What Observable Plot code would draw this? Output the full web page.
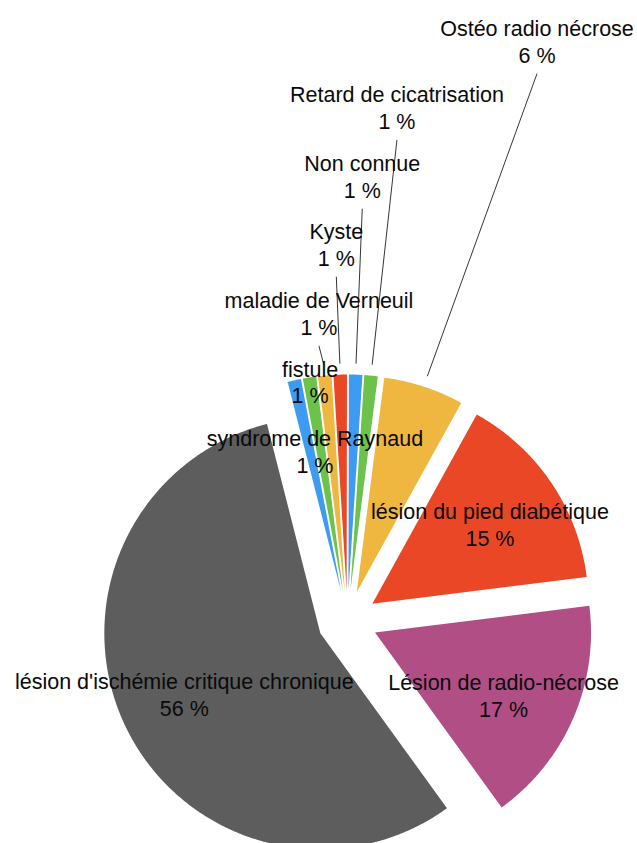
<!DOCTYPE html>
<html>
<head>
<meta charset="utf-8">
<script src="https://cdn.jsdelivr.net/npm/d3@7"></script>
<script src="https://cdn.jsdelivr.net/npm/@observablehq/plot@0.6"></script>
<style>
  html, body { margin: 0; padding: 0; background: #fff; }
  #chart svg { display: block; }
</style>
</head>
<body>
<div id="chart"></div>
<script>
// ---- data ----
const categories = [
  "syndrome de Raynaud",
  "fistule",
  "maladie de Verneuil",
  "Kyste",
  "Non connue",
  "Retard de cicatrisation",
  "Ostéo radio nécrose",
  "lésion du pied diabétique",
  "Lésion de radio-nécrose",
  "lésion d'ischémie critique chronique"
];
const percents = [1, 1, 1, 1, 1, 1, 6, 15, 17, 56];
const sliceColors = ["#3d9bf2", "#6cc24a", "#efb73f", "#ea4727", "#3d9bf2", "#6cc24a", "#efb73f", "#ea4727", "#b24e86", "#5d5d5d"];

// ---- layout ----
const W = 637, H = 843;
const cx = 347, cy = 620, R = 216, explode = 30;
const startDeg = -14.3;
const labelR = [143, 212, 279, 347, 415, 486, 580, 142, 143, 149];
const labelDA = [2, 0, 0, 0, 0, 0, 0, 0, 2.5, 1];
const hasLeader = [false, false, true, true, true, true, true, false, false, false];
const leaderR = 227;

const rad = Math.PI / 180;
const arcs = d3.pie().sort(null).value(d => d)
  .startAngle(startDeg * rad).endAngle((startDeg + 360) * rad)(percents);

const pt = (x0, y0, r, a) => [x0 + r * Math.sin(a), y0 - r * Math.cos(a)];

const slicePts = [];
const labelRows = [];
const leaderRows = [];
arcs.forEach((a, i) => {
  const mid = (a.startAngle + a.endAngle) / 2;
  const [ax, ay] = pt(cx, cy, explode, mid);
  const name = categories[i];
  slicePts.push({name, color: sliceColors[i], x: ax, y: ay});
  const n = Math.max(4, Math.ceil((a.endAngle - a.startAngle) / (0.4 * rad)));
  for (let k = 0; k <= n; k++) {
    const t = a.startAngle + (a.endAngle - a.startAngle) * k / n;
    const [x, y] = pt(ax, ay, R, t);
    slicePts.push({name, color: sliceColors[i], x, y});
  }
  slicePts.push({name, color: sliceColors[i], x: ax, y: ay});
  const [lx, ly] = pt(ax, ay, labelR[i], mid + labelDA[i] * rad);
  labelRows.push({x: lx, y: ly, text: `${name}\n${percents[i]} %`});
  if (hasLeader[i]) {
    const [tx, ty] = pt(ax, ay, leaderR, mid);
    leaderRows.push({x1: tx, y1: ty, x2: lx, y2: ly + 33});
  }
});

const chart = Plot.plot({
  width: W,
  height: H,
  margin: 0,
  style: {background: "#fff"},
  x: {domain: [0, W], range: [0, W], axis: null},
  y: {domain: [0, H], range: [0, H], axis: null},
  color: {type: "identity"},
  marks: [
    Plot.line(slicePts, {x: "x", y: "y", z: "name", fill: "color", stroke: "none", curve: "linear-closed"}),
    Plot.link(leaderRows, {x1: "x1", y1: "y1", x2: "x2", y2: "y2", stroke: "#000", strokeWidth: 0.8}),
    Plot.text(labelRows, {
      x: "x", y: "y", text: "text",
      fontSize: 21.5, lineHeight: 1.25,
      fontFamily: "'Liberation Sans', Arimo, Helvetica, Arial, sans-serif",
      fill: "#0a0a0a", textAnchor: "middle", lineAnchor: "middle"
    })
  ]
});
document.getElementById("chart").appendChild(chart);
</script>
</body>
</html>
